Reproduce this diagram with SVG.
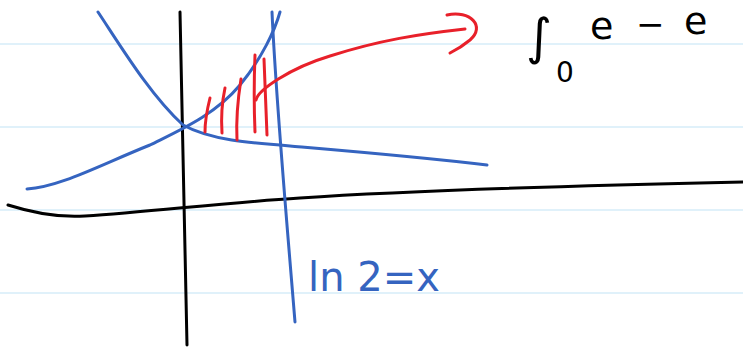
<svg xmlns="http://www.w3.org/2000/svg" width="743" height="351" viewBox="0 0 743 351">
<style>
.rule{stroke:#d6ecf8;stroke-width:1.5;fill:none}
.ink{fill:none;stroke-linecap:round;stroke-linejoin:round;stroke-width:3}
.k{stroke:#000}
.b{stroke:#3564c0}
.r{stroke:#e8202a}
.hand{font-family:"DejaVu Sans","Liberation Sans",sans-serif}
</style>
<rect width="743" height="351" fill="#fff"/>
<g id="rules">
<line class="rule" x1="0" y1="44" x2="743" y2="44"/>
<line class="rule" x1="0" y1="127" x2="743" y2="127"/>
<line class="rule" x1="0" y1="210" x2="743" y2="210"/>
<line class="rule" x1="0" y1="293" x2="743" y2="293"/>
</g>
<g id="axes">
<path class="ink k" d="M180,12 C181,100 184,200 187,345"/>
<path class="ink k" d="M8,205 C30,212 55,218 85,216 C150,212 220,203 300,198 C420,190 560,186 743,182"/>
</g>
<g id="curves">
<path class="ink b" d="M27,189 C60,187 100,165 150,145 C180,130 215,115 240,85 C262,58 275,30 280,12"/>
<path class="ink b" d="M98,12 C120,45 150,95 183,125 C210,140 250,143 290,146 C360,152 420,157 487,165"/>
<path class="ink b" d="M272,12 C276,100 285,200 295,322"/>
</g>
<g id="hatch">
<path class="ink r" d="M210,98 C207,110 205,122 205,132"/>
<path class="ink r" d="M225,88 C222,102 221,118 222,133"/>
<path class="ink r" d="M241,79 C238,98 236,120 237,140"/>
<path class="ink r" d="M255,55 C254,80 254,108 255,132"/>
<path class="ink r" d="M264,59 C265,85 266,110 267,135"/>
</g>
<g id="arrow">
<path class="ink r" d="M256,100 C258,90 290,68 330,56 C380,40 420,34 465,29"/>
<path class="ink r" d="M447,15 C470,10 486,26 470,40 C464,45 456,50 450,53"/>
</g>
<g id="labels">
<text class="hand" x="308" y="291" font-size="40" fill="#3564c0" textLength="132" lengthAdjust="spacingAndGlyphs">ln 2=x</text>
<text class="hand" x="526" y="54" font-size="50" fill="#000">∫</text>
<text class="hand" x="556" y="82" font-size="28" fill="#000">0</text>
<text class="hand" x="590" y="39" font-size="38" fill="#000">e</text>
<text class="hand" x="636" y="36" font-size="34" fill="#000">−</text>
<text class="hand" x="684" y="34" font-size="38" fill="#000">e</text>
</g>
</svg>
